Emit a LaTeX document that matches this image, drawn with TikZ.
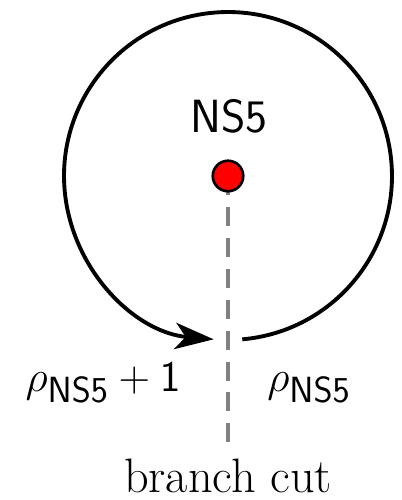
\documentclass[tikz,border=0pt]{standalone}
\usetikzlibrary{arrows.meta}

\begin{document}
\begin{tikzpicture}[
    x=0.02cm, y=0.02cm,
    font=\fontsize{27.5}{32}\selectfont,
    monodromy/.style={line width=2.2pt, -{Stealth[length=22pt, width=15pt, inset=6pt]}},
    brane/.style={circle, draw=black, line width=1.5pt, fill=red, minimum size=0.61cm, inner sep=0pt},
    cutline/.style={draw=gray, line width=2.8pt, dash pattern=on 10.8pt off 6.8pt},
    lbl/.style={inner sep=0pt, anchor=base}
]
\useasboundingbox (0,0) rectangle (402,500);

\coordinate (c) at (228,324);
\coordinate (cutend) at (228,57);

% branch cut behind the brane
\draw[cutline] (c) -- (cutend);
\node[brane] (ns5) at (c) {};
\node[lbl, font=\sffamily\fontsize{26.5}{31}\selectfont] (ns5lbl) at (229,367) {NS5};

\draw[monodromy] (ns5.center) ++(275:3.28cm) arc[start angle=275, end angle=625, radius=3.28cm];

\node[lbl] (rholeft) at (103,108) {$\rho_{\mathsf{NS5}}+\mathsf{1}$};
\node[lbl] (rhoright) at (309,108) {$\rho_{\mathsf{NS5}}$};
\node[lbl] (cutlbl) at (228,8) {branch cut};

\end{tikzpicture}
\end{document}
